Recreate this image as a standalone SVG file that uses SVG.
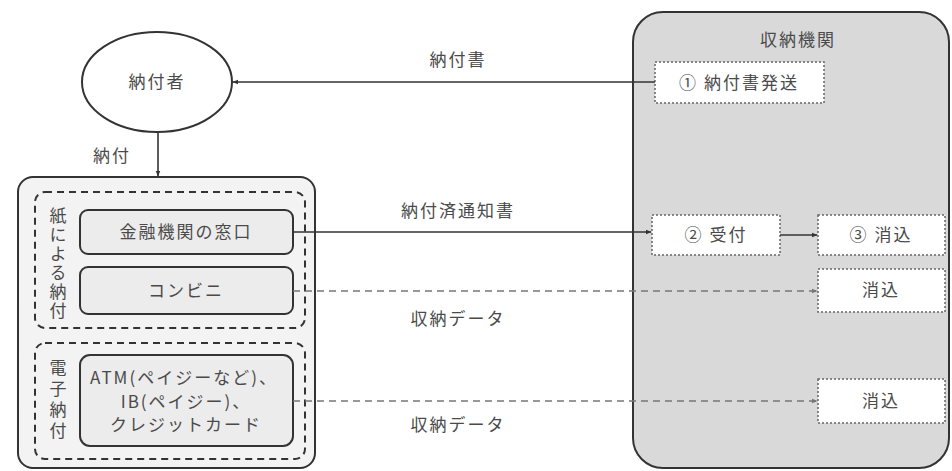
<svg xmlns="http://www.w3.org/2000/svg" width="952" height="471" viewBox="0 0 952 471">
<defs>
<style>
text{font-family:"Noto Sans CJK JP","Noto Sans",sans-serif;font-size:17px;fill:#4a4a4a;text-anchor:middle;letter-spacing:2px}
.vt{writing-mode:vertical-rl;letter-spacing:2px}
.solid{stroke:#333;stroke-width:1.6;fill:none}
.dash{stroke:#777;stroke-width:1.4;fill:none;stroke-dasharray:7 5}
.step{fill:#fff;stroke:#666;stroke-width:1.5;stroke-dasharray:2 2}
.ch{fill:#ececec;stroke:#333;stroke-width:2}
.grp{fill:none;stroke:#333;stroke-width:2;stroke-dasharray:7 5}
</style>
<marker id="ah" viewBox="0 0 10 10" refX="9" refY="5" markerWidth="6" markerHeight="6" orient="auto" markerUnits="userSpaceOnUse"><path d="M0,1 L10,5 L0,9 z" fill="#333"/></marker>
<marker id="ahg" viewBox="0 0 10 10" refX="9" refY="5" markerWidth="6" markerHeight="6" orient="auto" markerUnits="userSpaceOnUse"><path d="M0,1 L10,5 L0,9 z" fill="#777"/></marker>
</defs>
<rect width="952" height="471" fill="#fff"/>
<g id="shuno-kikan">
<rect x="633" y="12" width="316" height="456" rx="30" fill="#d9d9d9" stroke="#333" stroke-width="2"/>
<text x="798" y="46">収納機関</text>
</g>
<g id="step1"><rect class="step" x="655" y="62" width="169" height="41"/><text x="739" y="89">① 納付書発送</text></g>
<g id="step2"><rect class="step" x="652" y="215" width="128" height="40"/><text x="716" y="241">② 受付</text></g>
<g id="step3"><rect class="step" x="818" y="215" width="127" height="40"/><text x="881" y="241">③ 消込</text></g>
<g id="keshikomi1"><rect class="step" x="818" y="269" width="127" height="43"/><text x="881" y="296">消込</text></g>
<g id="keshikomi2"><rect class="step" x="818" y="379" width="127" height="44"/><text x="881" y="407">消込</text></g>
<g id="nofusha"><ellipse cx="157" cy="82" rx="75" ry="50" fill="#fff" stroke="#333" stroke-width="2"/><text x="157" y="88">納付者</text></g>
<g id="nofu-hoho">
<rect x="18" y="177" width="297" height="291" rx="15" fill="#f3f3f3" stroke="#333" stroke-width="2"/>
</g>
<g id="kami">
<rect class="grp" x="35" y="192" width="270" height="136" rx="10"/>
<text class="vt" x="58" y="264">紙による納付</text>
</g>
<g id="denshi">
<rect class="grp" x="35" y="343" width="270" height="116" rx="10"/>
<text class="vt" x="58" y="401" style="letter-spacing:4px">電子納付</text>
</g>
<g id="madoguchi"><rect class="ch" x="80" y="210" width="213" height="44" rx="8"/><text x="186" y="238" dominant-baseline="auto">金融機関の窓口</text></g>
<g id="conveni"><rect class="ch" x="80" y="267" width="213" height="47" rx="8"/><text x="186" y="297">コンビニ</text></g>
<g id="atm"><rect class="ch" x="80" y="355" width="213" height="91" rx="10"/>
<text x="184" y="384" letter-spacing="0.5">ATM(ペイジーなど)、</text>
<text x="186" y="408" letter-spacing="0.5">IB(ペイジー)、</text>
<text x="186" y="431" letter-spacing="0.5">クレジットカード</text></g>
<g id="connectors">
<line class="solid" x1="655" y1="82" x2="233" y2="82" marker-end="url(#ah)"/>
<text x="458" y="66">納付書</text>
<line class="solid" x1="158" y1="132" x2="158" y2="176" marker-end="url(#ah)"/>
<text x="112" y="162">納付</text>
<line class="solid" x1="293" y1="232" x2="651" y2="232" marker-end="url(#ah)"/>
<text x="458" y="217">納付済通知書</text>
<line class="solid" x1="780" y1="235" x2="817" y2="235" marker-end="url(#ah)"/>
<line class="dash" x1="293" y1="291" x2="817" y2="291" marker-end="url(#ahg)"/>
<text x="458" y="325">収納データ</text>
<line class="dash" x1="293" y1="401" x2="817" y2="401" marker-end="url(#ahg)"/>
<text x="458" y="431">収納データ</text>
</g>
</svg>
